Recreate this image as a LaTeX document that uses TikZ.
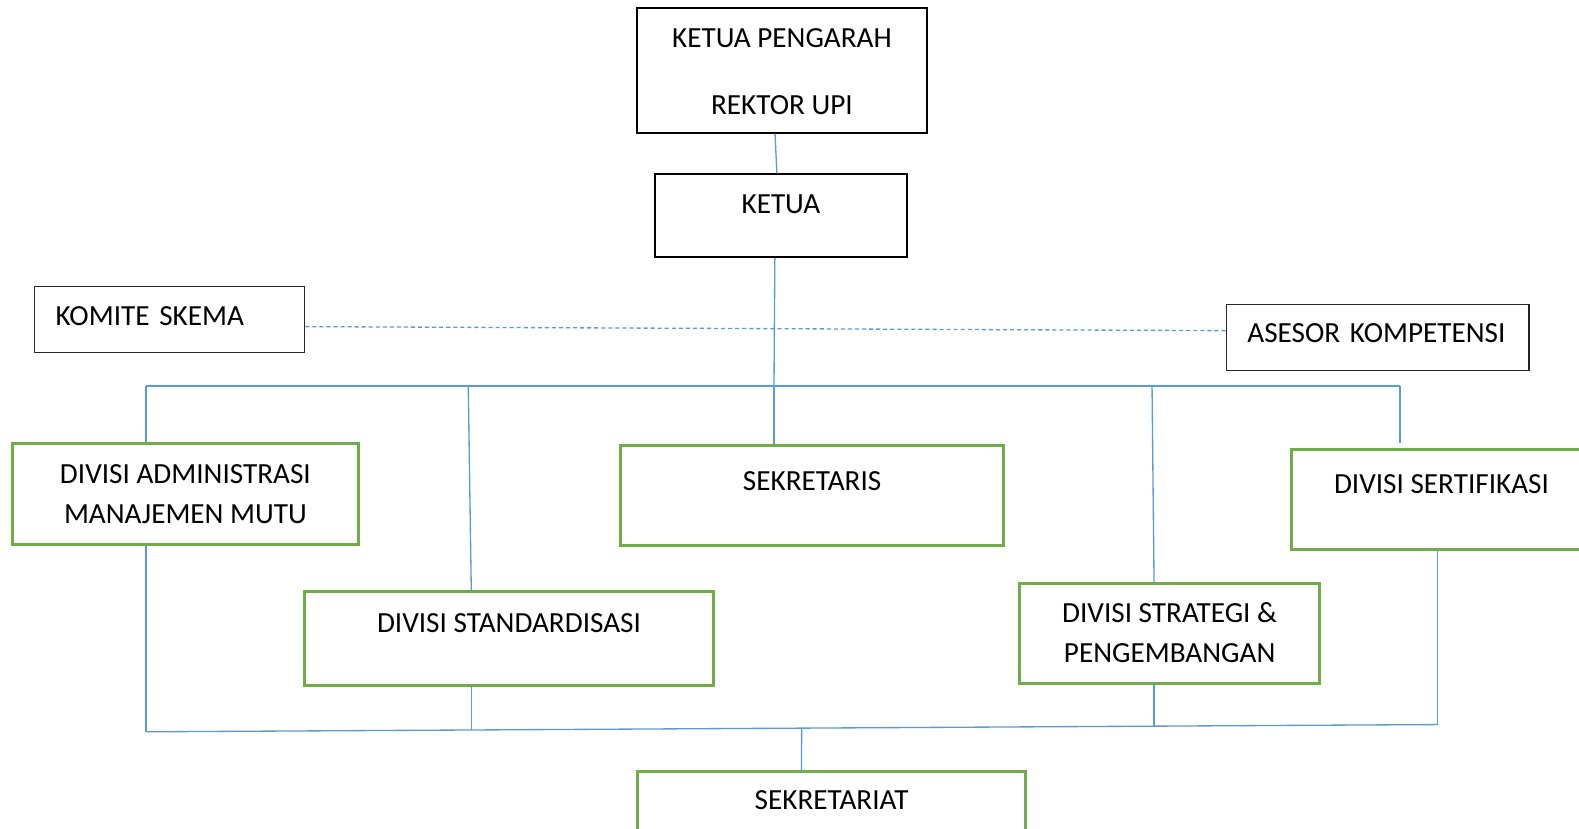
\documentclass[tikz,border=0pt]{standalone}
\usepackage{fontspec}
\setmainfont{Carlito}
\usepackage{tikz}
\usetikzlibrary{positioning}
\definecolor{linkblue}{HTML}{5B9BD5}
\definecolor{divgreen}{HTML}{70AD47}

\begin{document}
\begin{tikzpicture}[
            x=0.02cm, y=-0.02cm,
            every node/.style={font=\fontsize{16.5}{22.5}\selectfont},
            block/.style={rectangle, draw=black, line width=1.1pt, align=center, inner ysep=0pt, anchor=north west},
            thinblock/.style={block, draw=black!85, line width=0.8pt, align=left},
            division/.style={block, draw=divgreen, line width=1.7pt},
            link/.style={draw=linkblue, line width=0.75pt},
            dashlink/.style={link, dash pattern=on 0.08cm off 0.06cm}
        ]
        \useasboundingbox (0,0) rectangle (1568,823);
        \node[block, minimum width=5.77cm, text height=2.118cm, text depth=0.352cm] (pengarah) at (631.3,7.3) {KETUA PENGARAH\\[0.54cm]REKTOR UPI};
        \node[block, minimum width=5.0cm, text height=0.788cm, text depth=0.854cm] (ketua) at (649.5,172.1) {KETUA};
        \node[thinblock, text width=4.52cm, inner xsep=0.424cm, text height=0.78cm, text depth=0.538cm] (komite) at (33.4,283.7) {KOMITE SKEMA};
        \node[thinblock, text width=5.178cm, inner xsep=0.416cm, text height=0.76cm, text depth=0.55cm] (asesor) at (1217.2,301.9) {ASESOR KOMPETENSI};
        \node[division, minimum width=6.87cm, text height=1.584cm, text depth=0.416cm] (admin) at (10.9,438.9) {DIVISI ADMINISTRASI\\MANAJEMEN MUTU};
        \node[division, minimum width=7.6cm, text height=0.89cm, text depth=1.09cm] (sekretaris) at (615,441) {SEKRETARIS};
        \node[division, minimum width=5.96cm, text height=0.874cm, text depth=1.1cm] (sertifikasi) at (1281,445.2) {DIVISI SERTIFIKASI};
        \node[division, minimum width=8.12cm, text height=0.81cm, text depth=1.05cm] (standar) at (301,586) {DIVISI STANDARDISASI};
        \node[division, minimum width=5.96cm, text height=1.57cm, text depth=0.41cm] (strategi) at (1011,578) {DIVISI STRATEGI \&\\PENGEMBANGAN};
        \node[division, minimum width=7.71cm, text height=0.762cm, text depth=0.95cm] (sekretariat) at (631.6,764.6) {SEKRETARIAT};
        \coordinate (tA) at (145,383.3);
        \coordinate (tS) at (465,383.3);
        \coordinate (tK) at (768.6,383.3);
        \coordinate (tG) at (1144,383.3);
        \coordinate (tR) at (1390.3,383.3);
        \coordinate (bA) at (145,726.7);
        \coordinate (bS) at (468,724.9);
        \coordinate (bM) at (796.1,723.1);
        \coordinate (bG) at (1146,721.1);
        \coordinate (bR) at (1427.7,719.5);
        \draw[link] ([xshift=-0.137cm]pengarah.south) -- ([xshift=-0.08cm]ketua.north);
        \draw[link] ([xshift=-0.12cm]ketua.south) -- (tK);
        \draw[dashlink] ([yshift=-0.14cm]komite.east) -- ([yshift=0.14cm]asesor.west);
        \draw[link] (tA) -- (tR);
        \draw[link] (tA) -- (tA |- admin.north);
        \draw[link] (tS) -- (bS |- standar.north);
        \draw[link] (tK) -- (tK |- sekretaris.north);
        \draw[link] (tG) -- (bG |- strategi.north);
        \draw[link, shorten >=0.1cm] (tR) -- (tR |- sertifikasi.north);
        \draw[link] (bA |- admin.south) -- (bA);
        \draw[link] (bS |- standar.south) -- (bS);
        \draw[link] (bG |- strategi.south) -- (bG);
        \draw[link] (bR |- sertifikasi.south) -- (bR);
        \draw[link] (bA) -- (bR);
        \draw[link] (bM) -- ([xshift=-0.6cm]sekretariat.north);
        \end{tikzpicture}
\end{document}
